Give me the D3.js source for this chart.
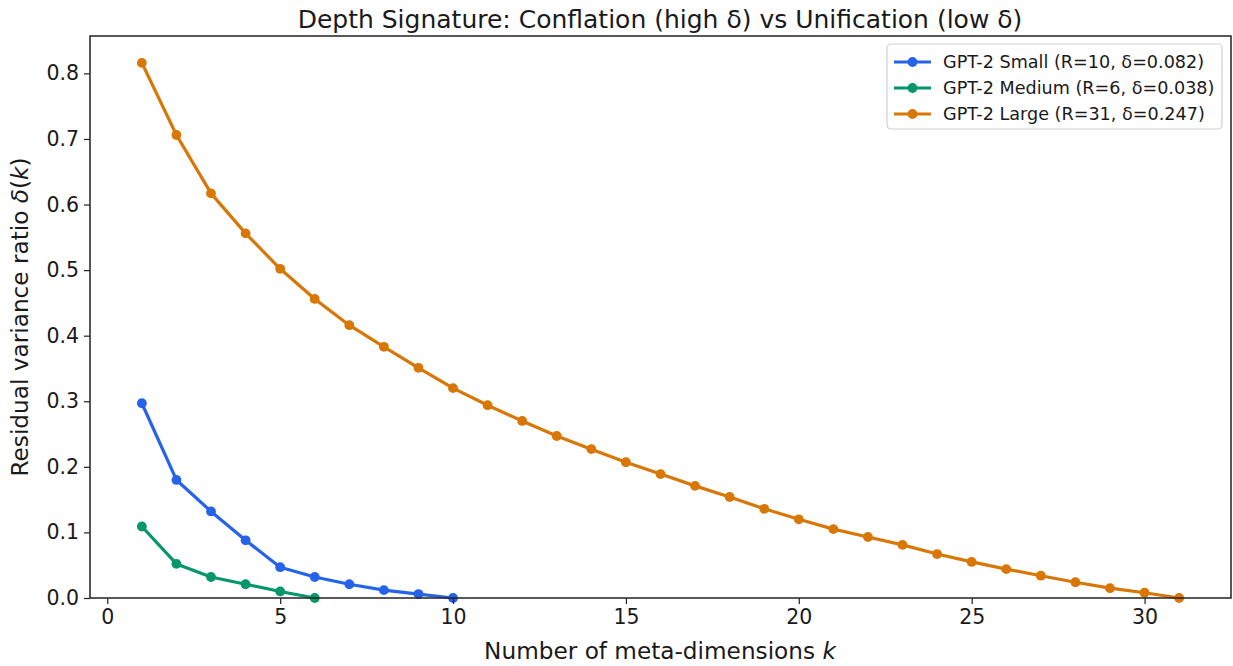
<!DOCTYPE html>
<html>
<head>
<meta charset="utf-8">
<script src="https://cdn.jsdelivr.net/npm/d3@7"></script>
<style>
  body { margin: 0; background: #fff; }
  text { font-family: "DejaVu Sans", sans-serif; fill: #1a1a1a; }
</style>
</head>
<body>
<svg id="chart" width="1233" height="666"></svg>
<script>
// values
const kSmall = [1, 2, 3, 4, 5, 6, 7, 8, 9, 10]
const deltaSmall = [0.297, 0.180, 0.132, 0.088, 0.047, 0.032, 0.021, 0.012, 0.006, 0.0]

const kMedium = [1, 2, 3, 4, 5, 6]
const deltaMedium = [0.109, 0.052, 0.032, 0.021, 0.010, 0.0]

const kLarge = d3.range(1, 32)
const deltaLarge = [0.816, 0.706, 0.617, 0.556, 0.502, 0.456, 0.416, 0.383, 0.351, 0.320,
  0.294, 0.270, 0.247, 0.227, 0.207, 0.189, 0.171, 0.154, 0.136, 0.120,
  0.105, 0.093, 0.081, 0.067, 0.055, 0.044, 0.034, 0.024, 0.015, 0.008, 0.0]

const seriesNames = ['GPT-2 Small (R=10, δ=0.082)', 'GPT-2 Medium (R=6, δ=0.038)', 'GPT-2 Large (R=31, δ=0.247)']
const seriesColors = ['#2563eb', '#059669', '#d97706']
const xTicks = [0, 5, 10, 15, 20, 25, 30]
const yTicks = [0, 0.1, 0.2, 0.3, 0.4, 0.5, 0.6, 0.7, 0.8]

const series = [
  { name: seriesNames[0], color: seriesColors[0], k: kSmall, d: deltaSmall },
  { name: seriesNames[1], color: seriesColors[1], k: kMedium, d: deltaMedium },
  { name: seriesNames[2], color: seriesColors[2], k: kLarge, d: deltaLarge }
]

const margin = { top: 36, right: 2, bottom: 68, left: 90 }
const width = 1233
const height = 666

const svg = d3.select('#chart')

const x = d3.scaleLinear()
  .domain([-0.5, 32.5])
  .range([margin.left, width - margin.right])

const y = d3.scaleLinear()
  .domain([0, 0.857])
  .range([height - margin.bottom, margin.top])

// lines + markers
const line = d3.line()
  .x(p => x(p[0]))
  .y(p => y(p[1]))

const plot = svg.append('g')

series.forEach(s => {
  const pts = s.k.map((k, i) => [k, s.d[i]])
  plot.append('path')
    .datum(pts)
    .attr('fill', 'none')
    .attr('stroke', s.color)
    .attr('stroke-width', 3.2)
    .attr('stroke-linejoin', 'round')
    .attr('d', line)
  plot.selectAll(null)
    .data(pts)
    .join('circle')
    .attr('cx', p => x(p[0]))
    .attr('cy', p => y(p[1]))
    .attr('r', 4.9)
    .attr('fill', s.color)
})

// axes
const xAxis = svg.append('g')
  .attr('transform', `translate(0,${height - margin.bottom})`)
  .call(d3.axisBottom(x).tickValues(xTicks).tickSize(6).tickPadding(5).tickFormat(d3.format('d')))
const yAxis = svg.append('g')
  .attr('transform', `translate(${margin.left},0)`)
  .call(d3.axisLeft(y).tickValues(yTicks).tickSize(6).tickPadding(5).tickFormat(d3.format('.1f')))

;[xAxis, yAxis].forEach(a => {
  a.select('.domain').remove()
  a.selectAll('line').attr('stroke', '#222').attr('stroke-width', 1.2)
  a.selectAll('text').attr('font-size', 20.5).attr('fill', '#1a1a1a')
    .attr('font-family', '"DejaVu Sans", sans-serif')
})

// frame
svg.append('rect')
  .attr('x', margin.left)
  .attr('y', margin.top)
  .attr('width', width - margin.left - margin.right)
  .attr('height', height - margin.top - margin.bottom)
  .attr('fill', 'none')
  .attr('stroke', '#222')
  .attr('stroke-width', 1.5)

// title + labels
svg.append('text')
  .attr('x', 660)
  .attr('y', 28)
  .attr('text-anchor', 'middle')
  .attr('font-size', 25)
  .text('Depth Signature: Conflation (high δ) vs Unification (low δ)')

const xl = svg.append('text')
  .attr('x', 660)
  .attr('y', 659)
  .attr('text-anchor', 'middle')
  .attr('font-size', 23.2)
xl.append('tspan').text('Number of meta-dimensions ')
xl.append('tspan').attr('font-style', 'italic').text('k')

const yl = svg.append('text')
  .attr('transform', `translate(28,${(margin.top + height - margin.bottom) / 2}) rotate(-90)`)
  .attr('text-anchor', 'middle')
  .attr('font-size', 23.2)
yl.append('tspan').text('Residual variance ratio ')
yl.append('tspan').attr('font-style', 'italic').text('δ')
yl.append('tspan').text('(')
yl.append('tspan').attr('font-style', 'italic').text('k')
yl.append('tspan').text(')')

// legend
const legend = svg.append('g').attr('transform', 'translate(887,44)')
legend.append('rect')
  .attr('width', 335)
  .attr('height', 85)
  .attr('rx', 4)
  .attr('fill', '#fff')
  .attr('fill-opacity', 0.8)
  .attr('stroke', '#d0d0d0')
  .attr('stroke-width', 1.2)

series.forEach((s, i) => {
  const row = legend.append('g').attr('transform', `translate(0,${18 + i * 26})`)
  row.append('line')
    .attr('x1', 7).attr('x2', 44)
    .attr('stroke', s.color).attr('stroke-width', 3.2)
  row.append('circle').attr('cx', 25.5).attr('r', 4.9).attr('fill', s.color)
  row.append('text')
    .attr('x', 56)
    .attr('y', 6)
    .attr('font-size', 17.6)
    .text(s.name)
})
</script>
</body>
</html>
